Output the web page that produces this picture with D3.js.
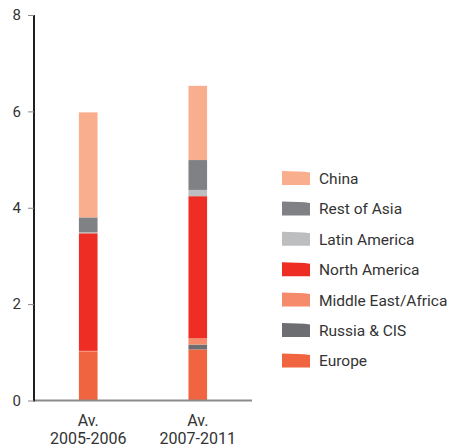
<!DOCTYPE html>
<html><head><meta charset="utf-8">
<script src="https://cdn.jsdelivr.net/npm/d3@7"></script>
<style>body{margin:0;background:#fff}text{font-family:Roboto,"Open Sans",sans-serif}</style>
</head><body><svg id="c" width="453" height="448"></svg>
<script>
const categories = ["Av.\n2005-2006", "Av.\n2007-2011"];
const series = ["Europe", "Russia & CIS", "Middle East/Africa", "North America", "Latin America", "Rest of Asia", "China"];
const europe = [1.02, 1.06];
const russia = [0.0, 0.10];
const middleEast = [0.01, 0.13];
const northAmerica = [2.44, 2.95];
const latinAmerica = [0.02, 0.13];
const restOfAsia = [0.31, 0.62];
const china = [2.18, 1.54];
const yTicks = [0, 2, 4, 6, 8];
const colors = ["#F06540", "#6D6E71", "#F58B6A", "#EE2E24", "#BDBEC0", "#808184", "#F9AE8E"];
const legendOrder = ["China", "Rest of Asia", "Latin America", "North America", "Middle East/Africa", "Russia & CIS", "Europe"];

const values = [europe, russia, middleEast, northAmerica, latinAmerica, restOfAsia, china];
const rows = categories.map((c, i) => {
  const r = {cat: c};
  series.forEach((s, j) => r[s] = values[j][i]);
  return r;
});
const stack = d3.stack().keys(series)(rows);
const color = d3.scaleOrdinal(series, colors);

const svg = d3.select("#c");
const y = d3.scaleLinear().domain([0, 8]).range([400.5, 15]);
const x = d3.scaleBand().domain(categories).range([34, 252]).paddingInner(0.83).paddingOuter(0.41);

// bars
svg.append("g").selectAll("g").data(stack).join("g").attr("fill", d => color(d.key))
  .selectAll("rect").data(d => d).join("rect")
  .attr("x", d => x(d.data.cat))
  .attr("width", x.bandwidth())
  .attr("y", d => y(d[1]))
  .attr("height", d => y(d[0]) - y(d[1]));

// baseline
svg.append("line").attr("x1", 34).attr("x2", 252).attr("y1", y(0)).attr("y2", y(0))
  .attr("stroke", "#8a8a8a").attr("stroke-width", 2);

// y axis
const ya = svg.append("g").attr("transform", "translate(34,0)")
  .call(d3.axisLeft(y).tickValues(yTicks).tickSize(6).tickPadding(7).tickFormat(d3.format("d")));
ya.select(".domain").attr("stroke", "#231F20").attr("stroke-width", 2).attr("d", `M0,${y(8)}V${y(0)+1}`);
ya.selectAll(".tick line").attr("stroke", "#8a8a8a");
ya.selectAll(".tick text").attr("fill", "#333").style("font-size", "15px").attr("font-family", null);

// x labels
const xl = svg.append("g");
categories.forEach(c => {
  const t = xl.append("text").attr("text-anchor", "middle").attr("fill", "#333").style("font-size", "16px")
    .attr("x", x(c) + x.bandwidth() / 2);
  c.split("\n").forEach((line, i) => t.append("tspan").attr("x", x(c) + x.bandwidth() / 2).attr("y", 426 + i * 17.5).text(line));
});

// legend
const lg = svg.append("g");
legendOrder.forEach((s, i) => {
  const yy = 171 + i * 30.4;
  lg.append("path").attr("fill", color(s))
    .attr("d", `M282,${yy}Q300,${yy} 310,${yy+1.5}V${yy+14}H282Z`);
  lg.append("text").attr("x", 319).attr("y", yy + 13).attr("fill", "#333").style("font-size", "15.5px").text(s);
});
</script></body></html>
